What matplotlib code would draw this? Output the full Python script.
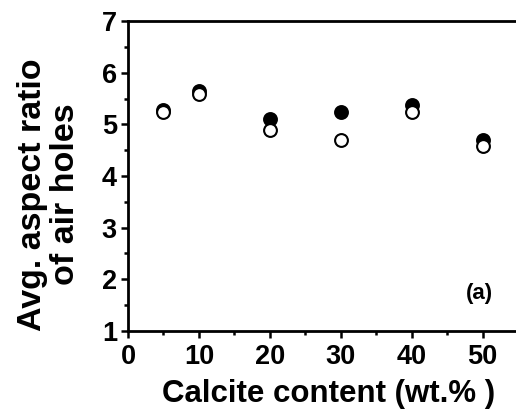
"""
Avg. aspect ratio of air holes vs calcite content, filled and open markers.
"""

import matplotlib.pyplot as plt
from matplotlib.ticker import MultipleLocator

# data
calcite = [5, 10, 20, 30, 40, 50]
ratio_filled = [5.28, 5.65, 5.11, 5.24, 5.37, 4.69]
ratio_open = [5.24, 5.58, 4.89, 4.69, 5.23, 4.58]


def plot_data():
    plt.rcParams['font.family'] = ['Liberation Sans', 'DejaVu Sans']
    fig = plt.figure(figsize=(5.16, 4.16), dpi=100)
    # right edge runs just past the figure, as in the reference
    ax = fig.add_axes([128 / 516, 1 - 331 / 416, 390 / 516, 310 / 416])

    ax.scatter(calcite, ratio_filled, s=85, c='black', edgecolors='black',
               linewidths=1.5, zorder=2)
    ax.scatter(calcite, ratio_open, s=85, c='white', edgecolors='black',
               linewidths=1.5, zorder=3)

    ax.set_xlim(0, 55)
    ax.set_ylim(1, 7)
    ax.xaxis.set_major_locator(MultipleLocator(10))
    ax.xaxis.set_minor_locator(MultipleLocator(5))
    ax.yaxis.set_major_locator(MultipleLocator(1))
    ax.yaxis.set_minor_locator(MultipleLocator(0.5))
    ax.tick_params(which='both', direction='out', width=1.8, top=False, right=False)
    ax.tick_params(which='major', length=5, labelsize=19.5)
    ax.tick_params(which='minor', length=3)
    ax.tick_params(axis='x', which='major', pad=4)
    ax.tick_params(axis='y', which='major', pad=3)
    for lab in ax.get_xticklabels() + ax.get_yticklabels():
        lab.set_fontweight('bold')

    for sp in ax.spines.values():
        sp.set_linewidth(2)

    ax.set_xlabel('Calcite content (wt.% )', fontsize=22.5, fontweight='bold')
    ax.xaxis.set_label_coords(0.513, -0.155)
    ax.set_ylabel('Avg. aspect ratio\nof air holes', fontsize=24.5, fontweight='bold',
                  linespacing=1.1)
    ax.yaxis.set_label_coords(-0.12, 0.44)
    ax.text(49.6, 1.72, '(a)', fontsize=16, fontweight='bold',
            ha='center', va='center')

    fig.savefig('out.png', dpi=100)


def main():
    plot_data()


if __name__ == '__main__':
    main()
